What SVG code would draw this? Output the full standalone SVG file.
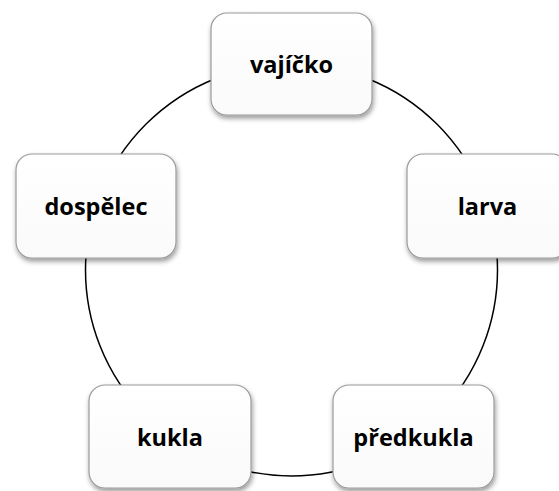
<svg xmlns="http://www.w3.org/2000/svg" width="559" height="491" viewBox="0 0 559 491">
<defs>
<filter id="sh" x="-20%" y="-20%" width="140%" height="150%">
<feDropShadow dx="1" dy="3" stdDeviation="2.5" flood-color="#000" flood-opacity="0.4"/>
</filter>
<linearGradient id="g" x1="0" y1="0" x2="0" y2="1">
<stop offset="0" stop-color="#ffffff"/>
<stop offset="1" stop-color="#fafafa"/>
</linearGradient>
</defs>
<style>
.box{fill:url(#g);stroke:#9a9a9a;stroke-width:1.2;filter:url(#sh)}
.lbl{font-family:"Open Sans","Noto Sans","Liberation Sans",sans-serif;font-weight:bold;font-size:23.5px;fill:#000;text-anchor:middle;dominant-baseline:central}
.conn{fill:none;stroke:#000;stroke-width:1.5}
</style>
<rect width="559" height="491" fill="#fff"/>
<g id="connectors">
<circle class="conn" cx="291.5" cy="270" r="206"/>
</g>
<g id="vajicko">
<rect class="box" x="211" y="13" width="161" height="102" rx="16"/>
<text class="lbl" x="291.5" y="64">vajíčko</text>
</g>
<g id="larva">
<rect class="box" x="407" y="154" width="161" height="104" rx="16"/>
<text class="lbl" x="487.5" y="206">larva</text>
</g>
<g id="predkukla">
<rect class="box" x="333" y="385" width="161" height="103" rx="16"/>
<text class="lbl" x="413.5" y="436.5">předkukla</text>
</g>
<g id="kukla">
<rect class="box" x="89" y="385" width="162" height="103" rx="16"/>
<text class="lbl" x="170" y="436.5">kukla</text>
</g>
<g id="dospelec">
<rect class="box" x="16" y="154" width="160" height="104" rx="16"/>
<text class="lbl" x="96" y="206">dospělec</text>
</g>
</svg>
